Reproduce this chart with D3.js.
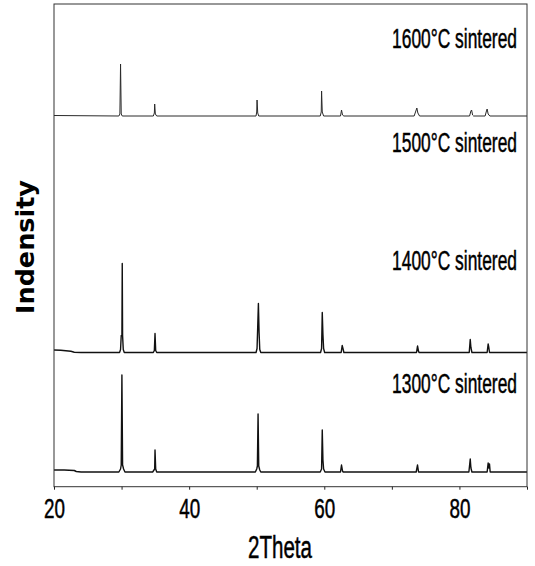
<!DOCTYPE html>
<html>
<head>
<meta charset="utf-8">
<script src="https://cdn.jsdelivr.net/npm/d3@7"></script>
<style>
  html, body { margin: 0; padding: 0; background: #fff; }
  svg { display: block; }
</style>
</head>
<body>
<svg id="chart" width="535" height="566"></svg>
<script>
// ---------- data ----------
const seriesLabels = ["1600°C sintered", "1500°C sintered", "1400°C sintered", "1300°C sintered"];
// vertical offsets (intensity units) of each trace in the waterfall
const seriesOffsets = [370.7, 253, 134.2, 14.7];
const labelLevels = [438.5, 335, 216.5, 93.5];   // intensity level of each label baseline

const xTicks = [20, 30, 40, 50, 60, 70, 80, 90];
const xTickLabels = {20: "20", 40: "40", 60: "60", 80: "80"};

const trace1600 = [
  [20,0.5],[29.6,0],[29.75,2],[29.85,52],[29.95,2],[30.1,0],
  [34.7,0],[34.85,3],[34.9,12],[35.0,2],[35.2,0],
  [49.9,0],[50.0,4],[50.05,16],[50.15,3],[50.3,0],
  [59.4,0],[59.55,4],[59.6,25],[59.7,4],[59.9,0],
  [62.4,0],[62.55,6],[62.7,1],[62.9,0],
  [73.3,0],[73.55,5],[73.7,8],[73.85,3],[74.1,0],
  [81.5,0],[81.7,5],[81.8,6],[81.95,1],[82.1,0],
  [83.8,0],[84.0,5],[84.1,7],[84.25,2],[84.5,0],
  [90,0]
];
const trace1500 = [];
const trace1400 = [
  [20,2.5],[21,2.2],[22.5,1.2],[23,0.3],[24,0],
  [29.7,0],[29.85,3],[29.95,17],[30.05,17],[30.1,89],[30.15,17],[30.25,3],[30.4,0],
  [34.7,0],[34.85,2],[34.95,19],[35.05,2],[35.2,0],
  [49.9,0],[50.05,4],[50.15,26],[50.25,49],[50.35,20],[50.45,3],[50.6,0],
  [59.45,0],[59.6,4],[59.7,40],[59.8,18],[59.9,4],[60.05,0],
  [62.5,0],[62.65,7],[62.8,3],[62.9,0],
  [73.65,0],[73.8,6.5],[73.95,1],[74.05,0],
  [81.45,0],[81.6,13],[81.7,5],[81.85,0],
  [84.1,0],[84.25,8.5],[84.35,5],[84.45,0],
  [90,0]
];
const trace1300 = [
  [20,2],[21.5,2],[23,1.5],[23.3,0.5],[24,0],
  [29.6,0],[29.85,3],[29.95,7],[30.05,97],[30.15,7],[30.3,3],[30.5,0],
  [34.6,0],[34.8,2],[34.9,3],[34.95,22],[35.05,3],[35.2,0],
  [49.8,0],[50.0,3],[50.1,6],[50.2,58],[50.3,6],[50.45,2],[50.6,0],
  [59.4,0],[59.6,3],[59.7,42],[59.8,12],[59.9,3],[60.1,0],
  [62.4,0],[62.55,7],[62.7,1],[62.8,0],
  [73.6,0],[73.8,7],[73.95,0],
  [81.4,0],[81.6,13],[81.7,4],[81.85,0],
  [84.1,0],[84.25,9],[84.35,4],[84.45,8],[84.55,0],
  [90,0]
];
const traces = [trace1600, trace1500, trace1400, trace1300];

// ---------- layout ----------
const plot = {left: 54, right: 527, top: 4, bottom: 486.7};
const svg = d3.select("#chart");

const x = d3.scaleLinear().domain([20, 90]).range([plot.left, plot.right]);
const y = d3.scaleLinear().domain([0, plot.bottom - plot.top]).range([plot.bottom, plot.top]);

const condensed = "'Liberation Sans Narrow', 'Arial Narrow', 'Liberation Sans', Arial, sans-serif";

// helper: draw text squeezed horizontally to a target width via transform
function squeezedText(parent, str, px, py, anchor, size, targetW, family, weight, rotate, strokeW) {
  const g = parent.append("g");
  const t = g.append("text")
    .attr("x", 0).attr("y", 0)
    .attr("text-anchor", anchor)
    .style("font-family", family)
    .style("font-size", size + "px")
    .style("font-weight", weight || "normal")
    .attr("fill", "#000")
    .text(str);
  if (strokeW) t.attr("stroke", "#000").attr("stroke-width", strokeW);
  const w = t.node().getComputedTextLength();
  const s = w > 0 ? targetW / w : 1;
  g.attr("transform", `translate(${px},${py})` + (rotate ? ` rotate(${rotate})` : "") + ` scale(${s},1)`);
  return g;
}

// traces
const line = d3.line().x(d => x(d[0])).y(d => y(d[1]));
traces.forEach((t, i) => {
  if (!t.length) return;
  const off = seriesOffsets[i];
  svg.append("path")
    .datum(t.map(p => [p[0], p[1] + off]))
    .attr("d", line)
    .attr("fill", "none")
    .attr("stroke", i === 0 ? "#2a2a2a" : "#111")
    .attr("stroke-width", i === 0 ? 1 : 1.4)
    .attr("stroke-linejoin", "round");
});

// frame
svg.append("rect")
  .attr("x", plot.left).attr("y", plot.top)
  .attr("width", plot.right - plot.left).attr("height", plot.bottom - plot.top)
  .attr("fill", "none").attr("stroke", "#333").attr("stroke-width", 1);

// x axis (ticks via d3 axis, labels squeezed separately)
const xAxis = d3.axisBottom(x)
  .tickValues(xTicks)
  .tickSize(3)
  .tickSizeOuter(0)
  .tickFormat(d => xTickLabels[d] || "");
const gx = svg.append("g")
  .attr("transform", `translate(0,${plot.bottom})`)
  .call(xAxis);
gx.select(".domain").remove();
gx.selectAll(".tick line").attr("stroke", "#222");
gx.selectAll(".tick").each(function(d) {
  const txt = d3.select(this).select("text");
  txt.remove();
  if (xTickLabels[d]) {
    squeezedText(d3.select(this), xTickLabels[d], 0, 31.5, "middle", 28, 21, condensed, "normal", 0, 0.5);
  }
});

// x label
squeezedText(svg, "2Theta", 280, 558, "middle", 31, 64, condensed, "normal", 0, 0.5);

// y label
squeezedText(svg, "Indensity", 34, 247, "middle", 25.5, 134, "'DejaVu Sans', sans-serif", "bold", -90);

// series labels
seriesLabels.forEach((lab, i) => {
  squeezedText(svg, lab, 517, y(labelLevels[i]), "end", 28, 125, condensed, "normal", 0, 0.5);
});
</script>
</body>
</html>
